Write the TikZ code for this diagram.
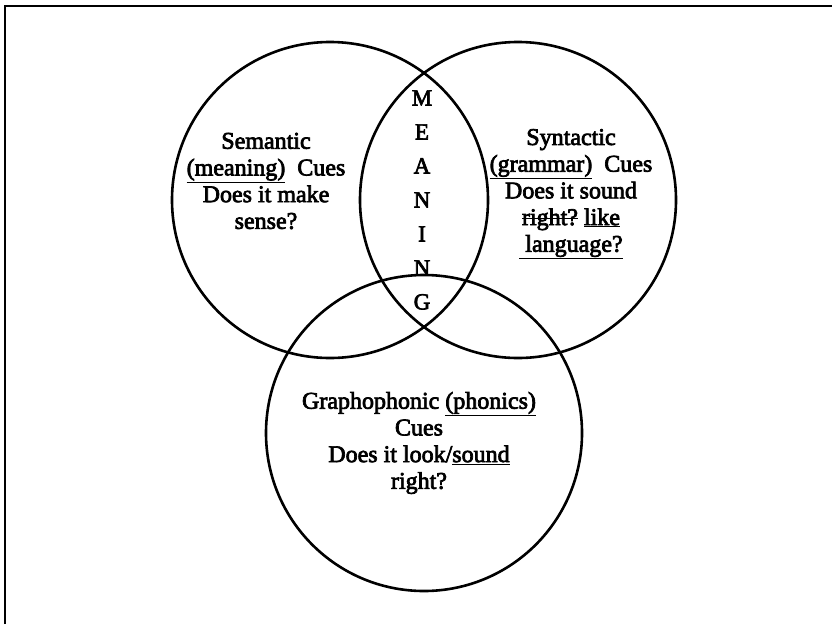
\documentclass[tikz,border=0pt]{standalone}
\usepackage{fontspec}
\setmainfont[RawFeature={embolden=3}]{Liberation Serif}
\usepackage{tikz}
% underline and strike-through for the cue texts
\newcommand{\undl}[1]{\underline{#1}}
\newcommand{\strk}[1]{\setbox0\hbox{#1}\rlap{\raisebox{0.55ex}{\rule{\wd0}{1.2pt}}}\box0\relax}

\begin{document}
\begin{tikzpicture}[x=1pt, y=-1pt]
% Definition of styles:
\tikzset{%
  ring/.style  = {draw, line width=2.6pt},
  cue/.style   = {align=center, inner sep=0pt, font=\fontsize{24}{26.7}\selectfont},
  letters/.style = {align=center, inner sep=0pt, font=\fontsize{23}{34}\selectfont},
  frame/.style = {draw, line width=1.3pt}
}
\useasboundingbox (0,0) rectangle (832,624);

% frame (runs off the page to the right and below)
\draw[frame] (5,624) -- (5,6) -- (832,6);

% the three circles
\draw[ring] (330,200) circle[radius=158pt];
\draw[ring] (518,200) circle[radius=158pt];
\draw[ring] (424,433) circle[radius=158pt];

\draw
	node [cue] (semantic) at (266,181) {Semantic\\ \undl{(meaning)}\ \ Cues\\ Does it make\\ sense?}
	node [cue] (syntactic) at (571,194) {Syntactic\\ \undl{(grammar)}\ \ Cues\\ Does it sound\\ \strk{right?} \undl{like}\\ \undl{\ language?}}
	node [cue] (grapho) at (419,443) {Graphophonic \undl{(phonics)}\\ Cues\\ Does it look/\undl{sound}\\ right?}
	node [letters] (meaning) at (422,200) {M\\ E\\ A\\ N\\ I\\ N\\ G};

\end{tikzpicture}
\end{document}
